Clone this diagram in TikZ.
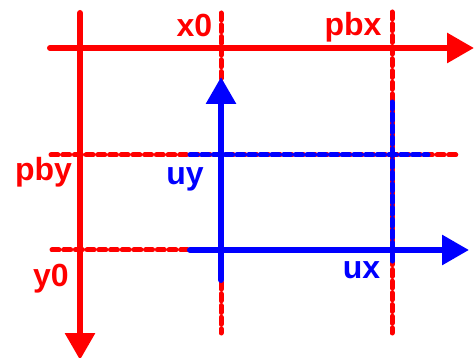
\documentclass[tikz,border=0pt]{standalone}
\usepackage{fontspec}
\setmainfont{Liberation Sans}
\usetikzlibrary{arrows.meta}
\begin{document}
\begin{tikzpicture}[x=1pt,y=-1pt,
  axisline/.style={line width=6pt, line cap=round},
  dashline/.style={line width=5pt, line cap=round, dash pattern=on 7pt off 4.7pt},
  lab/.style={font=\bfseries\fontsize{32}{32}\selectfont, inner sep=0pt, anchor=base},
  tipH/.style={-{Triangle[length=27pt,width=29pt]}},
  red/.style={color=red}, blue/.style={color=blue}]
\useasboundingbox (0,0) rectangle (474,358);
% coordinates
\coordinate (hA) at (50,48);   \coordinate (hB) at (474,48);
\coordinate (vA) at (80,13);   \coordinate (vB) at (80,360);
\coordinate (x0A) at (221,13); \coordinate (x0B) at (221,333);
\coordinate (pbxA) at (392,12);\coordinate (pbxB) at (392,333);
\coordinate (pbyA) at (51,155);\coordinate (pbyB) at (457,155);
\coordinate (y0A) at (52,250); \coordinate (y0B) at (190,250);
\coordinate (bpyA) at (190,155);\coordinate (bpyB) at (428,155);
\coordinate (bpxA) at (392,102);\coordinate (bpxB) at (392,265);
\coordinate (uyA) at (221,280); \coordinate (uyB) at (221,77);
\coordinate (uxA) at (190,250); \coordinate (uxB) at (469,250);
% red dashed guides
\draw[dashline, red] (x0A) -- (x0B);
\draw[dashline, red] (pbxA) -- (pbxB);
\draw[dashline, red] (pbyA) -- (pbyB);
\draw[dashline, red] (y0A) -- (y0B);
% red axes
\draw[axisline, red, tipH] (hA) -- (hB);
\draw[axisline, red, tipH] (vA) -- (vB);
% blue dashed overlays
\draw[dashline, blue] (bpyA) -- (bpyB);
\draw[dashline, blue] (bpxA) -- (bpxB);
% blue arrows
\draw[axisline, blue, tipH] (uyA) -- (uyB);
\draw[axisline, blue, tipH] (uxA) -- (uxB);
% labels
\node[lab, red]  (lx0)  at (194.5,37) {x0};
\node[lab, red]  (lpbx) at (353,36) {pbx};
\node[lab, red]  (lpby) at (43.5,181) {pby};
\node[lab, blue] (luy)  at (185,185) {uy};
\node[lab, red]  (ly0)  at (51,287) {y0};
\node[lab, blue] (lux)  at (361.5,278) {ux};
\end{tikzpicture}
\end{document}
